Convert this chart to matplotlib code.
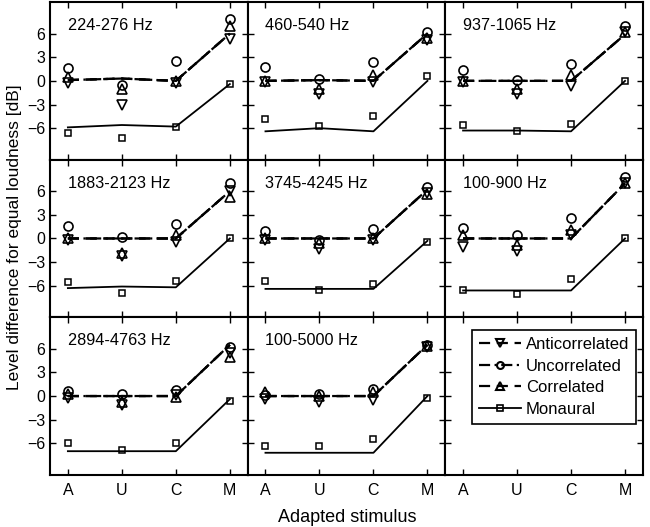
import numpy as np
import matplotlib.pyplot as plt

plt.rcParams['font.family'] = ['Liberation Sans', 'DejaVu Sans']

stimuli = ['A', 'U', 'C', 'M']
bands = ['224-276 Hz', '460-540 Hz', '937-1065 Hz', '1883-2123 Hz',
         '3745-4245 Hz', '100-900 Hz', '2894-4763 Hz', '100-5000 Hz']

# mesures (symboles)
anti_data = [[-0.3, -3.0, -0.3, 5.3],
             [-0.2, -1.7, -0.2, 5.2],
             [-0.2, -1.7, -0.7, 6.2],
             [-0.2, -2.2, -0.4, 6.0],
             [-0.2, -1.4, -0.2, 5.8],
             [-1.1, -1.6, 0.4, 7.1],
             [-0.3, -1.2, 0.1, 5.4],
             [-0.4, -0.7, -0.5, 6.2]]
unc_data = [[1.6, -0.5, 2.5, 7.8],
            [1.8, 0.2, 2.4, 6.2],
            [1.4, 0.1, 2.1, 7.0],
            [1.6, 0.2, 1.8, 7.0],
            [0.9, -0.2, 1.2, 6.5],
            [1.3, 0.5, 2.6, 7.8],
            [0.7, 0.3, 0.8, 6.2],
            [0.1, 0.3, 0.9, 6.5]]
corr_data = [[0.5, -1.0, 0.0, 7.0],
             [0.0, -1.0, 0.8, 5.5],
             [0.0, -1.0, 0.8, 6.2],
             [0.1, -1.8, 0.5, 5.3],
             [0.1, -0.6, 0.1, 5.7],
             [0.4, -0.8, 1.1, 7.0],
             [0.2, -0.7, -0.1, 5.0],
             [0.5, 0.0, 0.5, 6.4]]
mono_data = [[-6.6, -7.2, -5.9, -0.4],
             [-4.9, -5.7, -4.5, 0.6],
             [-5.6, -6.4, -5.5, 0.0],
             [-5.5, -6.9, -5.4, 0.0],
             [-5.4, -6.6, -5.8, -0.4],
             [-6.5, -7.0, -5.1, 0.0],
             [-6.0, -6.9, -6.0, -0.6],
             [-6.3, -6.4, -5.4, -0.2]]

# modele (lignes)
binaural_model = [[0.1, 0.3, 0.0, 6.0],
                  [0.0, 0.1, 0.0, 6.0],
                  [0.0, 0.0, 0.0, 5.9],
                  [0.0, 0.0, 0.0, 6.0],
                  [0.0, 0.0, 0.0, 6.2],
                  [0.0, 0.0, 0.0, 7.0],
                  [0.0, 0.0, 0.0, 6.5],
                  [0.0, 0.0, 0.0, 6.5]]
mono_model = [[-5.9, -5.6, -5.8, -0.4],
              [-6.4, -6.0, -6.4, 0.0],
              [-6.3, -6.3, -6.4, 0.0],
              [-6.3, -6.1, -6.2, 0.0],
              [-6.4, -6.4, -6.4, -0.3],
              [-6.6, -6.6, -6.6, 0.0],
              [-7.0, -7.0, -7.0, -0.4],
              [-7.2, -7.2, -7.2, 0.0]]

x = np.arange(1, 5)

fig, axes = plt.subplots(3, 3, sharex=True, sharey=True, figsize=(6.5, 5.27), dpi=100)
fig.subplots_adjust(left=0.077, right=0.989, top=0.996, bottom=0.099, hspace=0, wspace=0)

for i, ax in enumerate(axes.flat):
    ax.set_xlim(0.67, 4.33)
    ax.set_ylim(-10, 10)
    ax.set_xticks(x)
    ax.set_xticklabels(stimuli)
    ax.set_yticks([-6, -3, 0, 3, 6])
    ax.tick_params(direction='in', top=True, right=True, length=4, width=1, labelsize=11.5)
    ax.tick_params(axis='x', pad=6)
    for s in ax.spines.values():
        s.set_linewidth(1.5)
    if i >= len(bands):
        continue
    # lignes du modele
    ax.plot(x, binaural_model[i], 'k--', lw=1.6, dashes=(5, 3))
    ax.plot(x, binaural_model[i], 'k-.', lw=1.6, dashes=(5, 2, 1, 2))
    ax.plot(x, binaural_model[i], 'k--', lw=1.6, dashes=(5, 3))
    ax.plot(x, mono_model[i], 'k-', lw=1.3)
    # symboles
    ax.plot(x, anti_data[i], 'kv', mfc='none', ms=7, mew=1.2)
    ax.plot(x, unc_data[i], 'ko', mfc='none', ms=6.5, mew=1.2)
    ax.plot(x, corr_data[i], 'k^', mfc='none', ms=7, mew=1.2)
    ax.plot(x, mono_data[i], 'ks', mfc='none', ms=5, mew=1.1)
    ax.text(0.09, 0.85, bands[i], transform=ax.transAxes, fontsize=11.7, va='center')

# legende dans la derniere case
leg_ax = axes[2, 2]
h1, = leg_ax.plot([], [], 'k--', marker='v', mfc='none', ms=6, mew=1.5, lw=1.6, dashes=(5, 3))
h2, = leg_ax.plot([], [], 'k-.', marker='o', mfc='none', ms=5, mew=1.5, lw=1.6, dashes=(5, 2, 1, 2))
h3, = leg_ax.plot([], [], 'k--', marker='^', mfc='none', ms=6, mew=1.5, lw=1.6, dashes=(5, 3))
h4, = leg_ax.plot([], [], 'k-', marker='s', mfc='none', ms=4.5, mew=1.2, lw=1.3)
leg = leg_ax.legend([h1, h2, h3, h4], ['Anticorrelated', 'Uncorrelated', 'Correlated', 'Monaural'],
                    loc='upper right', bbox_to_anchor=(0.964, 0.918), fontsize=12, fancybox=False,
                    edgecolor='k', framealpha=1, handlelength=2.5, borderpad=0.4,
                    labelspacing=0.4, handletextpad=0.3, borderaxespad=0)
leg.get_frame().set_linewidth(1.2)

fig.text(0.022, 0.55, 'Level difference for equal loudness [dB]', rotation=90,
         va='center', ha='center', fontsize=12.5)
fig.text(0.534, 0.018, 'Adapted stimulus', ha='center', va='center', fontsize=13)

plt.savefig('out.png', dpi=100)
